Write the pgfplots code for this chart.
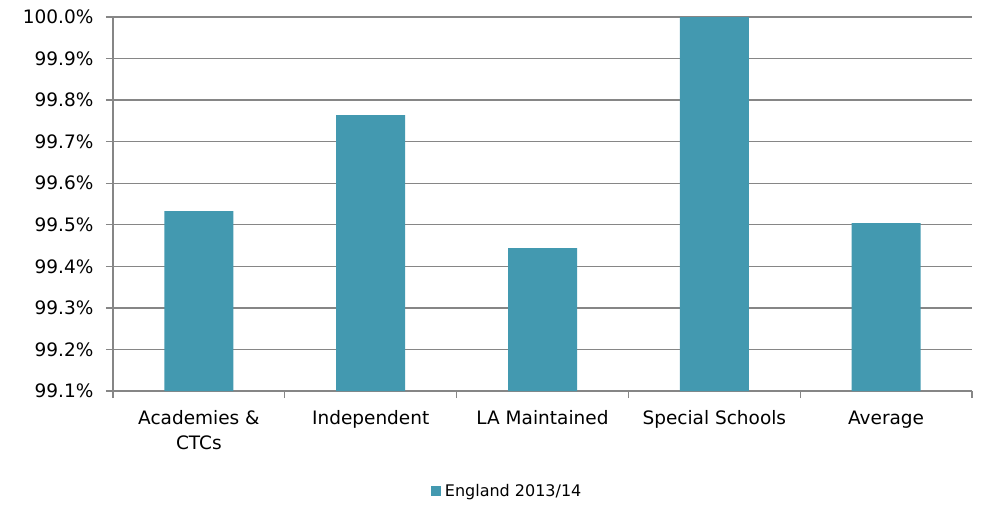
\documentclass[border=0pt]{standalone}
\usepackage{pgfplots}
\pgfplotsset{compat=1.18}
\usepackage{fontspec}
\setmainfont{DejaVu Sans}
\definecolor{barc}{RGB}{67,153,176}
\definecolor{gridc}{RGB}{134,134,134}
\begin{document}
\begin{tikzpicture}
\path[use as bounding box] (0,0) rectangle (984pt,504pt);
\begin{axis}[
  at={(113pt,113pt)}, anchor=south west,
  scale only axis, width=859pt, height=374pt,
  xmin=-0.5, xmax=4.5, ymin=99.1, ymax=100.0,
  axis x line*=bottom, axis y line*=left,
  axis line style={gridc, line width=1.3pt},
  every tick/.style={gridc, line width=1.3pt},
  tick align=outside,
  ytick={99.1,99.2,...,100.01},
  yticklabel={\pgfmathprintnumber[fixed,fixed zerofill,precision=1]{\tick}\%\kern9pt},
  /pgf/number format/assume math mode=true,
  ymajorgrids, major grid style={gridc, line width=1.3pt},
  major y tick style={gridc, line width=1.3pt},
  major tick length=7pt,
  xtick={0,1,2,3,4},
  xticklabels={{Academies \&\\CTCs},Independent,LA Maintained,Special Schools,Average},
  xticklabel style={align=center, yshift=-9pt, font=\fontsize{18.5}{25}\selectfont},
  yticklabel style={font=\fontsize{18.5}{20}\selectfont},
  major x tick style={draw=none},
  minor xtick={-0.5,0.5,1.5,2.5,3.5,4.5},
  minor x tick style={gridc, line width=1.3pt},
  minor tick length=7pt,
  ybar, bar width=69pt,
  legend style={at={(0.46,-0.267)}, anchor=center, draw=none,
    font=\fontsize{16}{18}\selectfont, legend cell align=left,
    nodes={inner xsep=4pt}},
  legend image code/.code={\fill[#1] (0pt,-5pt) rectangle (10pt,5pt);},
]
\addplot[fill=barc, draw=none] coordinates {(0,99.533) (1,99.764) (2,99.444) (3,100.0) (4,99.504)};
\addlegendentry{England 2013/14}
\end{axis}
\end{tikzpicture}
\end{document}
